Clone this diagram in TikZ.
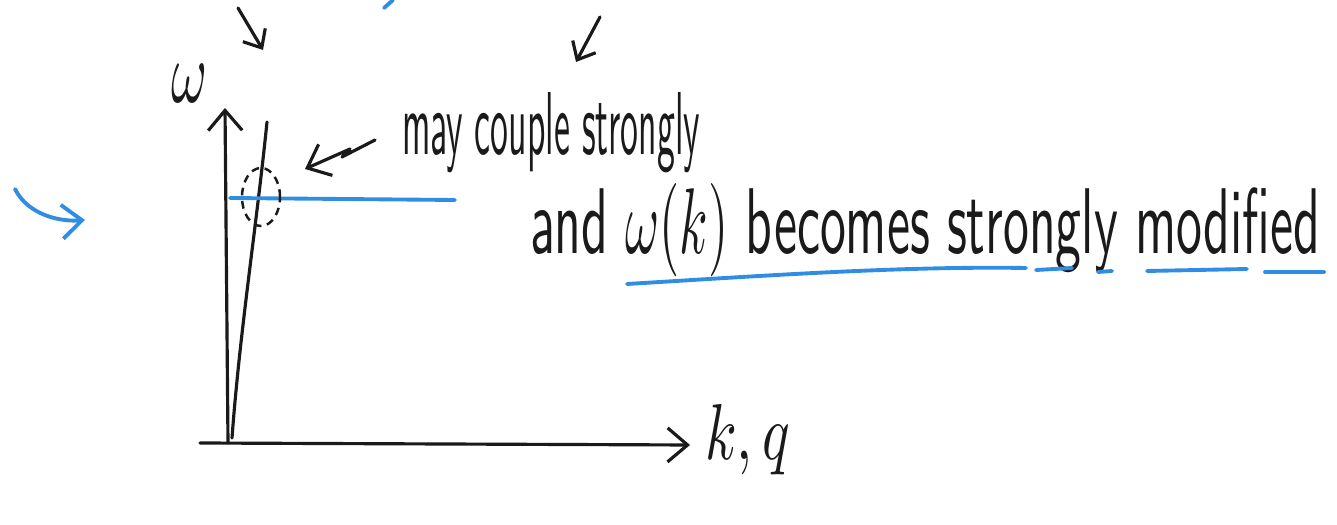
\documentclass[tikz,border=0pt]{standalone}
\usetikzlibrary{arrows.meta, shapes.geometric}
\definecolor{pen-black}{HTML}{1A1A1A}
\definecolor{pen-blue}{HTML}{2F8DE4}

\begin{document}
\begin{tikzpicture}[x=0.01cm, y=-0.01cm,
    every node/.style={inner sep=0pt, outer sep=0pt, font=\sffamily, text=pen-black},
    pen/.style={line width=0.9pt, color=pen-black, line cap=round, line join=round},
    bluepen/.style={line width=1.1pt, color=pen-blue, line cap=round, line join=round},
    barb/.style={-{Straight Barb[length=2mm, width=3.4mm]}},
    smallbarb/.style={-{Straight Barb[length=1.5mm, width=2.6mm]}}]
  \useasboundingbox (0,0) rectangle (1337,525);

  % axes
  \coordinate (O) at (228,443);
  \coordinate (wtop) at (225,108);
  \coordinate (xstart) at (200,443);
  \coordinate (xend) at (690,445);
  \draw[pen, barb] (O) -- (wtop);
  \draw[pen, barb] (xstart) -- (xend);
  \node (w) at (190,83) {\resizebox{0.36cm}{0.38cm}{$\omega$}};
  \node[anchor=base west] (kq) at (705,460) {\resizebox{0.85cm}{0.55cm}{$k,q$}};

  % steep branch and flat mode
  \coordinate (btop) at (267,122);
  \coordinate (bbot) at (232,438);
  \draw[pen] (btop) .. controls (256,230) and (240,330) .. (bbot);
  \coordinate (fl) at (230,198);
  \coordinate (fr) at (455,200);
  \draw[bluepen] (fl) -- (fr);
  \node[ellipse, draw=pen-black, line width=0.7pt, dash pattern=on 2.2pt off 1.6pt,
    minimum width=0.38cm, minimum height=0.58cm] (mix) at (261,197) {};

  % text
  \node[anchor=base west] (may) at (402,155)
    {\resizebox{2.98cm}{0.62cm}{may couple strongly}};
  \node[anchor=base west] (modified) at (530,254)
    {\resizebox{7.9cm}{0.7cm}{and $\omega(k)$ becomes strongly modified}};

  % pointer to the crossing
  \coordinate (zz) at (375,140);
  \coordinate (ptr) at (305,169);
  \draw[pen, barb] (zz) -- (342,157) -- (350,149) -- (ptr);

  % underlines
  \draw[bluepen] (627,284) .. controls (760,276) and (900,266) .. (1026,268);
  \draw[bluepen] (1036,270) -- (1072,268);
  \draw[bluepen] (1098,272) -- (1112,271);
  \draw[bluepen] (1147,271) -- (1247,269);
  \draw[bluepen] (1265,272) -- (1324,272);

  % arrows at the edges
  \coordinate (a1s) at (238,8);
  \coordinate (a1e) at (263,50);
  \coordinate (a2s) at (600,17);
  \coordinate (a2e) at (576,62);
  \draw[pen, smallbarb] (a1s) -- (a1e);
  \draw[pen, smallbarb] (a2s) -- (a2e);
  \draw[bluepen] (393,0) -- (384,8);
  \coordinate (ls) at (15,189);
  \coordinate (le) at (85,220);
  \draw[bluepen, barb] (ls) .. controls (28,215) and (60,222) .. (le);
\end{tikzpicture}
\end{document}
